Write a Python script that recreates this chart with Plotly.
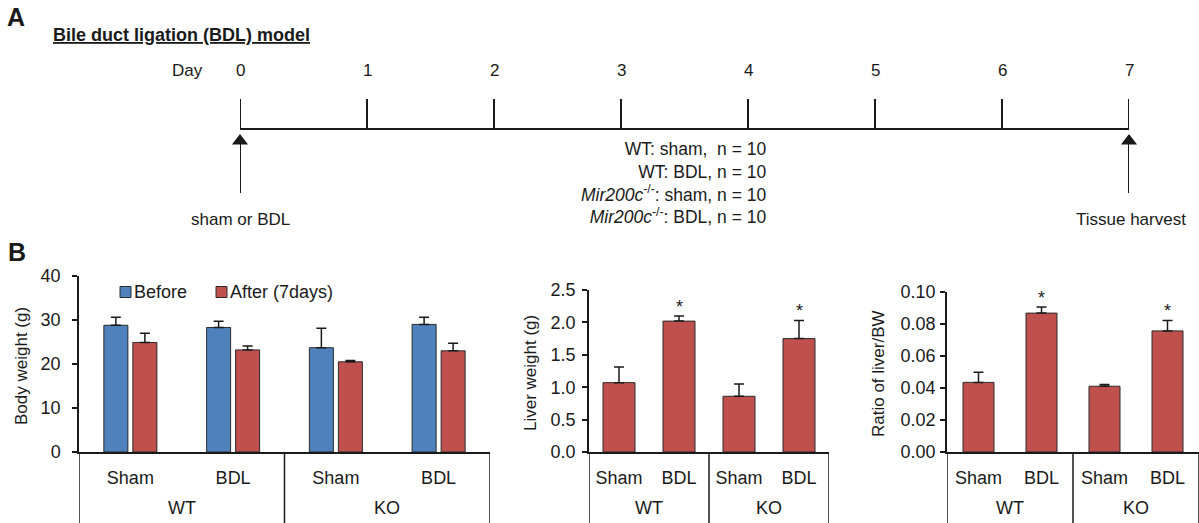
import plotly.graph_objects as go

W, H = 1199, 523

# ---------------- data ----------------
days = [0, 1, 2, 3, 4, 5, 6, 7]
group_lines = [
    "WT: sham,  n = 10",
    "WT: BDL, n = 10",
    "<i>Mir200c</i><sup>-/-</sup>: sham, n = 10",
    "<i>Mir200c</i><sup>-/-</sup>: BDL, n = 10",
]
groups = ["WT", "WT", "KO", "KO"]
conditions = ["Sham", "BDL", "Sham", "BDL"]

bw_before = [28.8, 28.3, 23.7, 29.0]
bw_before_err = [1.8, 1.4, 4.4, 1.6]
bw_after = [24.9, 23.2, 20.5, 23.0]
bw_after_err = [2.1, 0.9, 0.3, 1.7]

liver = [1.07, 2.02, 0.86, 1.75]
liver_err = [0.24, 0.08, 0.19, 0.28]

ratio = [0.0435, 0.0868, 0.0411, 0.0757]
ratio_err = [0.0063, 0.0038, 0.0011, 0.0065]

significant = [False, True, False, True]

# ---------------- style ----------------
FONT = "Liberation Sans, Arial, sans-serif"
BLUE = "#4F81BD"
RED = "#C0504D"
INK = "#1a1a1a"
keys = [f"{g} {c}" for g, c in zip(groups, conditions)]


def px(x):
    return x / W


def py(y):
    return 1 - y / H


def label(x, y, text, size, xanchor="center", **kw):
    d = dict(x=px(x), y=py(y), xref="paper", yref="paper", text=text, showarrow=False,
             xanchor=xanchor, yanchor="middle", font=dict(size=size))
    d.update(kw)
    return d


fig = go.Figure()

# ---------- panel A timeline (y4 range maps 0..200 onto pixel rows 240..40) ----------
LINE_Y, TICK_TOP, HEAD_Y, TAIL_Y, DAY_Y, NOTE_Y = 111, 141, 99, 47, 170, 21
tx, ty = [days[0], days[-1], None], [LINE_Y, LINE_Y, None]
for d in days:
    tx += [d, d, None]
    ty += [LINE_Y, TICK_TOP, None]
fig.add_trace(go.Scatter(x=tx, y=ty, mode="lines", line=dict(color=INK, width=2), cliponaxis=False,
                         xaxis="x4", yaxis="y4", showlegend=False, hoverinfo="skip"))
ends = [days[0], days[-1]]
fig.add_trace(go.Scatter(x=[ends[0], ends[0], None, ends[1], ends[1]],
                         y=[TAIL_Y, HEAD_Y, None, TAIL_Y, HEAD_Y], mode="lines",
                         line=dict(color=INK, width=2), xaxis="x4", yaxis="y4", cliponaxis=False,
                         showlegend=False, hoverinfo="skip"))
fig.add_trace(go.Scatter(x=ends, y=[HEAD_Y, HEAD_Y], mode="markers", cliponaxis=False,
                         marker=dict(symbol="triangle-up", size=14, color=INK, line=dict(width=0)),
                         xaxis="x4", yaxis="y4", showlegend=False, hoverinfo="skip"))

ann = []
for d in days:
    ann.append(dict(x=d, y=DAY_Y, xref="x4", yref="y4", text=str(d), showarrow=False,
                    xanchor="center", yanchor="middle", font=dict(size=17)))
ann.append(dict(x=days[0], y=NOTE_Y, xref="x4", yref="y4", text="sham or BDL",
                showarrow=False, xanchor="center", yanchor="middle", font=dict(size=17)))
ann.append(dict(x=days[-1], y=NOTE_Y, xref="x4", yref="y4", text="Tissue harvest",
                showarrow=False, xanchor="center", yanchor="middle", font=dict(size=17), xshift=2))
ann.append(label(205, 70, "Day", 17, xanchor="right"))
ann.append(label(768, 183, "<br>".join(group_lines), 17.5, xanchor="right", align="right"))
ann.append(label(5, 17, "<b>A</b>", 25, xanchor="left"))
ann.append(label(51, 35, "<b><u>Bile duct ligation (BDL) model</u></b>", 18, xanchor="left"))
ann.append(label(6, 252, "<b>B</b>", 25, xanchor="left"))

# ---------- panel B charts ----------
bar_line = dict(color="#2a2a2a", width=1)


def err(arr):
    return dict(type="data", array=arr, arrayminus=[0] * len(arr), symmetric=False,
                color=INK, thickness=1.5, width=5)


w1 = 24 / 102.75
fig.add_trace(go.Bar(x=keys, y=bw_before, error_y=err(bw_before_err), marker=dict(color=BLUE, line=bar_line),
                     width=w1, offset=-26.5 / 102.75, xaxis="x", yaxis="y", name="Before", showlegend=False))
fig.add_trace(go.Bar(x=keys, y=bw_after, error_y=err(bw_after_err), marker=dict(color=RED, line=bar_line),
                     width=w1, offset=2.5 / 102.75, xaxis="x", yaxis="y", name="After (7days)", showlegend=False))
w2 = 32 / 60
fig.add_trace(go.Bar(x=keys, y=liver, error_y=err(liver_err), marker=dict(color=RED, line=bar_line),
                     width=w2, offset=-w2 / 2, xaxis="x2", yaxis="y2", showlegend=False))
w3 = 31 / 63
fig.add_trace(go.Bar(x=keys, y=ratio, error_y=err(ratio_err), marker=dict(color=RED, line=bar_line),
                     width=w3, offset=-w3 / 2, xaxis="x3", yaxis="y3", showlegend=False))

shapes = []
# manual legend for body weight
for sx, col, name in ((120, BLUE, "Before"), (216, RED, "After (7days)")):
    shapes.append(dict(type="rect", xref="paper", yref="paper", x0=px(sx), x1=px(sx + 11),
                       y0=py(297.5), y1=py(286.5), fillcolor=col, line=dict(color="#2a2a2a", width=1)))
    ann.append(label(sx + 12, 292, name, 18, xanchor="left"))

# asterisks
for xa, ya, vals, errs in (("x2", "y2", liver, liver_err), ("x3", "y3", ratio, ratio_err)):
    for i, s in enumerate(significant):
        if s:
            ann.append(dict(x=i, y=vals[i] + errs[i], xref=xa, yref=ya, text="*", xanchor="center",
                            yanchor="bottom", yshift=-3, showarrow=False, font=dict(size=18)))

# y-axis titles
for xp, yp, t in ((21, 366, "Body weight (g)"), (530, 373, "Liver weight (g)"), (878, 374, "Ratio of liver/BW")):
    ann.append(label(xp, yp, t, 17, textangle=-90))

# group labels and dividers
for xa in ("x", "x2", "x3"):
    for g in ("WT", "KO"):
        idx = [i for i, gg in enumerate(groups) if gg == g]
        ann.append(dict(x=sum(idx) / len(idx), y=py(508), xref=xa, yref="paper", text=g,
                        xanchor="center", yanchor="middle", showarrow=False, font=dict(size=18)))
    bounds = [-0.5] + [i + 0.5 for i in range(len(groups) - 1) if groups[i] != groups[i + 1]] + [len(groups) - 0.5]
    for b in bounds:
        shapes.append(dict(type="line", xref=xa, yref="paper", x0=b, x1=b, y0=0, y1=py(452),
                           line=dict(color=INK, width=1.5)))

xcommon = dict(type="category", range=[-0.5, 3.5], showline=True, linecolor=INK, linewidth=1.5,
               ticks="", tickmode="array", tickvals=keys, ticktext=conditions, showgrid=False,
               zeroline=False, tickfont=dict(size=18), ticklabelstandoff=9, fixedrange=True,
               automargin=False)
ycommon = dict(showline=True, linecolor=INK, linewidth=1.5, ticks="outside", ticklen=5,
               tickwidth=1.5, tickcolor=INK, showgrid=False, zeroline=False,
               tickfont=dict(size=18), fixedrange=True, automargin=False)

fig.update_layout(
    width=W, height=H, margin=dict(l=0, r=0, t=0, b=0, autoexpand=False),
    paper_bgcolor="white", plot_bgcolor="white",
    font=dict(family=FONT, color="#1a1a1a"),
    barmode="overlay", showlegend=False,
    xaxis=dict(xcommon, domain=[px(79), px(490)], anchor="y"),
    yaxis=dict(ycommon, domain=[py(452), py(276)], range=[0, 40], dtick=10, anchor="x",
               ticklabelstandoff=8),
    xaxis2=dict(xcommon, domain=[px(589), px(829)], anchor="y2"),
    yaxis2=dict(ycommon, domain=[py(452), py(290)], range=[0, 2.5], dtick=0.5, tickformat=".1f",
                anchor="x2", ticklabelstandoff=3),
    xaxis3=dict(xcommon, domain=[px(947), 1.0], anchor="y3"),
    yaxis3=dict(ycommon, domain=[py(452), py(292)], range=[0, 0.1], dtick=0.02, tickformat=".2f",
                anchor="x3", ticklabelstandoff=1),
    xaxis4=dict(domain=[px(240), px(1129)], range=[0, 7], visible=False, anchor="y4", fixedrange=True),
    yaxis4=dict(domain=[py(240), py(40)], range=[0, 200], visible=False, anchor="x4", fixedrange=True),
    annotations=ann, shapes=shapes,
)

fig.write_html("out.html")
